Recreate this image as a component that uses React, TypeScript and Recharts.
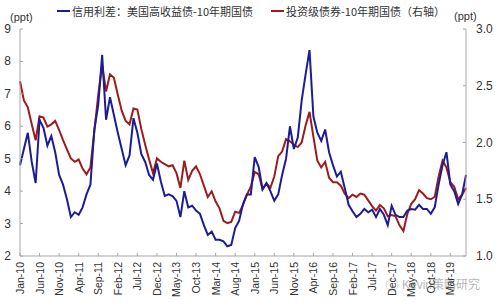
import { LineChart, Line, XAxis, YAxis } from "recharts";

// monthly, Jan-10 .. Jul-19
const MONTH_NAMES = ["Jan", "Feb", "Mar", "Apr", "May", "Jun", "Jul", "Aug", "Sep", "Oct", "Nov", "Dec"];
const months: string[] = [];
for (let y = 10; y <= 19; y++) {
  for (let m = 0; m < 12; m++) {
    if (y === 19 && m > 6) break;
    months.push(`${MONTH_NAMES[m]}-${y}`);
  }
}

// 信用利差：美国高收益债-10年期国债 (left axis, ppt)
const hySpread = [
  4.8, 5.3, 5.8, 4.9, 4.25, 6.2, 5.95, 5.4, 5.7, 5.2, 4.5, 4.2,
  3.75, 3.2, 3.35, 3.27, 3.5, 3.9, 4.2, 5.9, 6.66, 8.2, 6.2, 6.9,
  6.35, 5.8, 5.3, 4.8, 5.1, 6.25, 5.8, 5.15, 4.9, 4.5, 4.35, 4.85,
  4.3, 3.85, 3.9, 3.85, 3.7, 3.2, 4.0, 3.5, 3.55, 3.4, 3.3, 2.95,
  2.65, 2.75, 2.5, 2.5, 2.45, 2.3, 2.34, 2.86, 3.08, 3.6, 3.9, 3.9,
  5.05, 4.75, 4.05, 4.25, 4.0, 3.7, 3.9, 4.5, 5.0, 6.0, 5.3, 5.65,
  6.8, 7.6, 8.35, 6.3, 5.8, 5.55, 5.9, 5.2, 4.8, 4.45, 4.6, 4.1,
  3.58, 3.38, 3.2, 3.3, 3.45, 3.35, 3.43, 3.2, 3.45, 3.27, 2.95, 3.55,
  3.27, 3.2, 3.2, 3.4, 3.45, 3.43, 3.58, 3.45, 3.45, 3.3, 3.5, 4.2,
  4.8, 5.2, 4.2, 4.0, 3.6, 3.89, 4.5,
];

// 投资级债券-10年期国债 (right axis, ppt)
const igSpread = [
  2.54, 2.37, 2.31, 2.16, 2.02, 2.23, 2.22, 2.14, 2.16, 2.19, 2.11, 2.02,
  1.94, 1.86, 1.83, 1.85, 1.77, 1.72, 1.78, 2.1, 2.42, 2.68, 2.45, 2.6,
  2.57, 2.42, 2.28, 2.19, 2.16, 2.3, 2.29, 2.12, 1.98, 1.85, 1.73, 1.86,
  1.83, 1.81, 1.79, 1.8, 1.73, 1.6, 1.84, 1.67, 1.75, 1.79, 1.72, 1.62,
  1.52, 1.57, 1.48, 1.42, 1.31, 1.29, 1.3, 1.39, 1.38, 1.45, 1.54, 1.61,
  1.74, 1.72, 1.59, 1.64, 1.6, 1.7, 1.88, 1.92, 2.03, 2.01, 1.98, 1.96,
  2.0, 2.15, 2.27, 2.05, 1.84, 1.78, 1.83, 1.69, 1.65, 1.65, 1.62, 1.55,
  1.51, 1.54, 1.52, 1.55, 1.54, 1.49, 1.44, 1.4, 1.45, 1.42, 1.35, 1.36,
  1.35, 1.27, 1.22, 1.37, 1.46, 1.5, 1.58, 1.55, 1.51, 1.5, 1.52, 1.7,
  1.84, 1.78, 1.65, 1.61, 1.5, 1.54, 1.6,
];

const leftTicks = [2, 3, 4, 5, 6, 7, 8, 9];
const rightTicks = [1.0, 1.5, 2.0, 2.5, 3.0];

const data = months.map((m, i) => ({ month: m, hy: hySpread[i], ig: igSpread[i] }));

const FONT = "'Liberation Sans', Arial, 'Noto Sans CJK SC', sans-serif";
const AXIS = "#a6a6a6";
const BLUE = "#1c1c94";
const RED = "#9c1c1c";

function LeftTick({ x, y, payload }: any) {
  return (
    <g>
      <line x1={x} x2={x + 3} y1={y} y2={y} stroke={AXIS} />
      <text x={x - 9} y={y} dy={4} textAnchor="end" fontSize={12} fill="#333" fontFamily={FONT}>
        {payload.value}
      </text>
    </g>
  );
}

function RightTick({ x, y, payload }: any) {
  return (
    <g>
      <line x1={x} x2={x - 3} y1={y} y2={y} stroke={AXIS} />
      <text x={x + 10} y={y} dy={4} textAnchor="start" fontSize={12} fill="#333" fontFamily={FONT}>
        {Number(payload.value).toFixed(1)}
      </text>
    </g>
  );
}

function BottomTick({ x, y, payload }: any) {
  return (
    <g>
      <line x1={x} x2={x} y1={y} y2={y - 3} stroke={AXIS} />
      <text
        transform={`translate(${x + 4},${y + 6}) rotate(-90)`}
        textAnchor="end"
        fontSize={10.5}
        fill="#333"
        fontFamily={FONT}
      >
        {payload.value}
      </text>
    </g>
  );
}

export default function App() {
  return (
    <div style={{ position: "absolute", left: 0, top: 0, width: 500, height: 306, background: "#fff", fontFamily: FONT }}>
      <LineChart width={500} height={306} data={data} margin={{ top: 29, right: 0, left: 0, bottom: 0 }}>
        <XAxis
          dataKey="month"
          interval={4}
          height={50}
          tickSize={0}
          tickMargin={0}
          tickLine={false}
          axisLine={{ stroke: AXIS }}
          tick={<BottomTick />}
        />
        <YAxis
          yAxisId="left"
          orientation="left"
          width={20}
          domain={[2, 9]}
          ticks={leftTicks}
          tickSize={0}
          tickMargin={0}
          tickLine={false}
          axisLine={{ stroke: AXIS }}
          tick={<LeftTick />}
          allowDataOverflow
        />
        <YAxis
          yAxisId="right"
          orientation="right"
          width={34}
          domain={[1, 3]}
          ticks={rightTicks}
          tickSize={0}
          tickMargin={0}
          tickLine={false}
          axisLine={{ stroke: AXIS }}
          tick={<RightTick />}
          allowDataOverflow
        />
        <Line yAxisId="right" type="linear" dataKey="ig" stroke={RED} strokeWidth={2} dot={false} isAnimationActive={false} />
        <Line yAxisId="left" type="linear" dataKey="hy" stroke={BLUE} strokeWidth={2} dot={false} isAnimationActive={false} />
        <text x={10} y={21} fontSize={11} fill="#333" fontFamily={FONT}>(ppt)</text>
        <text x={454} y={20} fontSize={11} fill="#333" fontFamily={FONT}>(ppt)</text>
        <text x={402} y={289} fontSize={12} fill="#9a9a9a" opacity={0.7} fontFamily={FONT}>Kevin策略研究</text>
        <circle cx={392} cy={285} r={6} fill="none" stroke="#bbb" opacity={0.6} />
      </LineChart>
      <div
        style={{
          position: "absolute",
          top: 3,
          left: 57,
          display: "flex",
          alignItems: "center",
          fontSize: 11,
          color: "#333",
          fontFamily: "'Noto Sans CJK SC', sans-serif",
          whiteSpace: "nowrap",
        }}
      >
        <span style={{ display: "inline-block", width: 13, height: 2, background: BLUE, marginRight: 2 }} />
        <span>信用利差：美国高收益债-10年期国债</span>
        <span style={{ display: "inline-block", width: 13, height: 2, background: RED, marginLeft: 18, marginRight: 2 }} />
        <span>投资级债券-10年期国债（右轴）</span>
      </div>
    </div>
  );
}
